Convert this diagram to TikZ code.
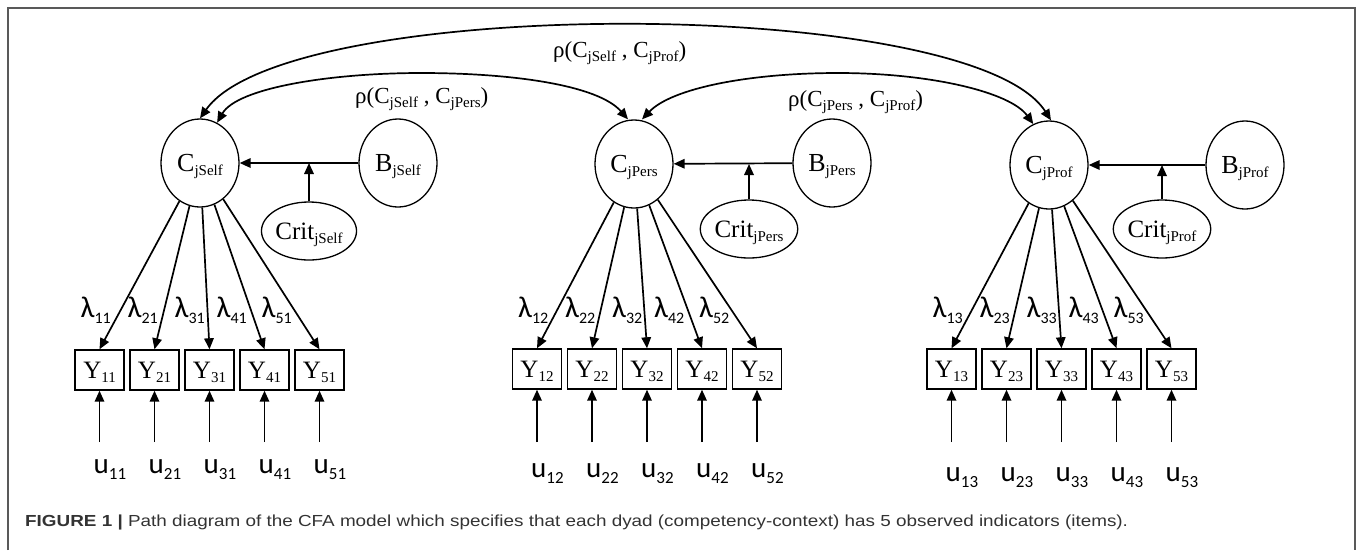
\documentclass[tikz,border=0pt]{standalone}
\usepackage{fontspec}
\usepackage{graphicx}
\setmainfont{Liberation Serif}
\newfontfamily\calib{Carlito}
\newfontfamily\capsans[FakeStretch=1.18]{Liberation Sans}
\usetikzlibrary{arrows.meta,shapes.geometric}

\newcommand\fs[1]{\fontsize{#1}{#1}\selectfont}
% lowered subscripts that do not change the box height
\newcommand\lo[1]{\smash{\raisebox{-4pt}{\fs{15}#1}}}
\newcommand\lsub[1]{\smash{\raisebox{-6pt}{\fs{16}#1}}}
\newcommand\usub[1]{\smash{\raisebox{-6pt}{\fs{17}#1}}}

\tikzset{
  latent/.style={ellipse, draw, line width=1.3, minimum width=78, minimum height=88,
                 inner sep=0, font=\fs{26}},
  crit/.style={ellipse, draw, line width=1.3, minimum width=80, minimum height=58,
               inner sep=0, font=\fs{25}},
  obs/.style={rectangle, draw, line width=1.4, minimum width=49, minimum height=40,
              inner sep=0, font=\fs{25}},
  lam/.style={anchor=base west, inner sep=0, font=\calib\fs{30}},
  ulab/.style={anchor=base west, inner sep=0, font=\calib\fs{29}},
  rho/.style={anchor=base west, inner sep=0, font=\fs{23}},
  path/.style={-{Triangle[length=11,width=9.5]}, line width=1.7},
  twoway/.style={{Triangle[length=11,width=9.5]}-{Triangle[length=11,width=9.5]}, line width=1.7},
}

\begin{document}
\begin{tikzpicture}[x=1pt, y=-1pt]
\useasboundingbox (0,0) rectangle (1357,550);
\fill[white] (0,0) rectangle (1357,550);

% panel frame, open at the bottom
\draw[black!65, line width=1.5] (8,550) -- (8,8) -- (1355,8) -- (1355,550);

% latent constructs, biases and criteria
\node[latent] (Cs) at (200,163) {C\lo{jSelf}};
\node[latent] (Bs) at (398,163) {B\lo{jSelf}};
\node[crit]   (Ks) at (309,231) {Crit\lo{jSelf}};

\node[latent] (Cp) at (634,164) {C\lo{jPers}};
\node[latent] (Bp) at (832,163) {B\lo{jPers}};
\node[crit]   (Kp) at (749,229) {Crit\lo{jPers}};

\node[latent] (Cf) at (1049,165) {C\lo{jProf}};
\node[latent] (Bf) at (1245,165) {B\lo{jProf}};
\node[crit, minimum width=86] (Kf) at (1162,229) {Crit\lo{jProf}};

\foreach \B/\C/\K in {Bs/Cs/Ks, Bp/Cp/Kp, Bf/Cf/Kf} {
  \draw[path] (\B) -- (\C);
  \draw[path] (\K) -- (\K |- \C);
}

% correlations between the constructs
\draw[twoway] (Cs.north) .. controls +(87,-124) and +(-80,-125) .. ([xshift=2]Cf.north);

\coordinate (pk1) at (421,73);
\draw[twoway] (Cs.67) .. controls (237,88) and (330,73) .. (pk1)
              .. controls (512,73) and (598,85) .. ([xshift=-6]Cp.north);

\coordinate (pk2) at (838,73);
\draw[twoway] ([xshift=8]Cp.north) .. controls (672,88) and (750,73) .. (pk2)
              .. controls (930,73) and (1010,92) .. (Cf.111);

\node[rho] (r13) at (553,57)  {ρ(C\lo{jSelf} , C\lo{jProf})};
\node[rho] (r12) at (355,103) {ρ(C\lo{jSelf} , C\lo{jPers})};
\node[rho] (r23) at (788,106) {ρ(C\lo{jPers} , C\lo{jProf})};

% indicators, loadings and residuals
\foreach \g/\x/\y/\ub/\C in {1/99.5/370/473/Cs, 2/537/369/477/Cp, 3/951.5/369/481/Cf} {
  \foreach \i/\lx in {1/-19, 2/28, 3/75, 4/117, 5/162} {
    \node[obs] (Y\i\g) at ({\x+55*(\i-1)}, \y) {Y\lo{\i\g}};
    \draw[path] (\C) -- (Y\i\g.north);
    \node[lam] (L\i\g) at ({\x+\lx}, 317) {λ\lsub{\i\g}};
    \coordinate (E\i\g) at ({\x+55*(\i-1)}, 442);
    \draw[path] (E\i\g) -- (Y\i\g);
    \node[ulab] (U\i\g) at ({\x+55*(\i-1)-6}, \ub) {u\usub{\i\g}};
  }
}

% caption
\node[anchor=base west, inner sep=0, font=\capsans\fs{16}, text=black!80] (cap) at (25,526)
  {\textbf{FIGURE 1 |} Path diagram of the CFA model which specifies that each dyad (competency-context) has 5 observed indicators (items).};
\end{tikzpicture}
\end{document}
